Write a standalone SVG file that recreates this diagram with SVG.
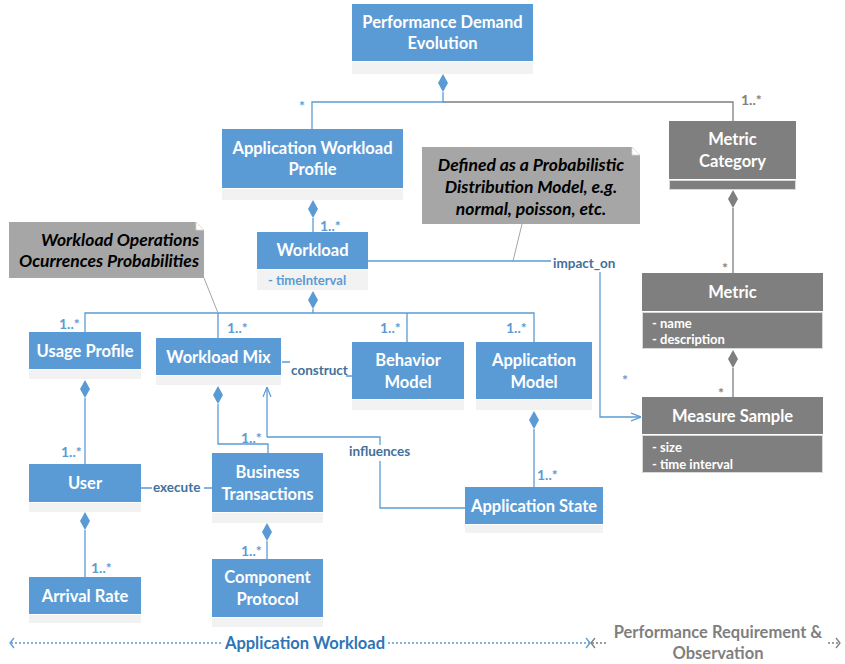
<svg xmlns="http://www.w3.org/2000/svg" width="845" height="664" viewBox="0 0 845 664">
<style>
.box{fill:#5B9BD5}
.comp{fill:#F2F2F2}
.dbox{fill:#7F7F7F}
.dcomp{fill:#7F7F7F;stroke:#D9D9D9;stroke-width:1}
.note{fill:#A6A6A6}
.fold{fill:#FFFFFF;stroke:#D9D9D9;stroke-width:0.8}
.t{font-family:Lato,"Liberation Sans",sans-serif;font-weight:bold;font-size:16.5px;fill:#FFFFFF;text-anchor:middle}
.attr{font-family:Lato,"Liberation Sans",sans-serif;font-weight:bold;font-size:13px;fill:#5B9BD5}
.dattr{font-family:Lato,"Liberation Sans",sans-serif;font-weight:bold;font-size:13px;fill:#FFFFFF}
.nt{font-family:Lato,"Liberation Sans",sans-serif;font-weight:bold;font-style:italic;font-size:17.5px;fill:#000000}
.ln{fill:none;stroke:#5B9BD5;stroke-width:1.3}
.gln{fill:none;stroke:#7F7F7F;stroke-width:1.3}
.nln{fill:none;stroke:#A6A6A6;stroke-width:1}
.mult{font-family:Lato,"Liberation Sans",sans-serif;font-weight:bold;font-size:14px;fill:#5B9BD5}
.gmult{font-family:Lato,"Liberation Sans",sans-serif;font-weight:bold;font-size:14px;fill:#7F7F7F}
.lbl{font-family:Lato,"Liberation Sans",sans-serif;font-weight:bold;font-size:13.5px;fill:#41719C}
.dia{fill:#5B9BD5}
.gdia{fill:#7F7F7F}
.bot{font-family:Lato,"Liberation Sans",sans-serif;font-weight:bold;font-size:16.5px;text-anchor:middle}
</style>
<defs>
<path id="dm" d="M0,0 L5,9 L0,18 L-5,9 Z"/>
<marker id="open" viewBox="0 0 10 10" refX="10" refY="5" markerWidth="10" markerHeight="10" markerUnits="userSpaceOnUse" orient="auto">
<path d="M0,1 L10,5 L0,9" fill="none" stroke="#5B9BD5" stroke-width="1.2"/>
</marker>
</defs>

<g id="connectors">
<use href="#dm" x="443" y="74" class="dia"/>
<path class="ln" d="M443,92 V102 H312 V129"/>
<path class="gln" d="M443,102 H733 V121"/>
<text class="mult" x="299" y="111">*</text>
<text class="gmult" x="741" y="105">1..*</text>
<use href="#dm" x="313" y="200" class="dia"/>
<path class="ln" d="M313,218 V232"/>
<text class="mult" x="320" y="231">1..*</text>
<use href="#dm" x="313" y="291" class="dia"/>
<path class="ln" d="M313,309 V313 M85,332 V313 H534 V342 M218,313 V338 M407,313 V342"/>
<text class="mult" x="59" y="329">1..*</text>
<text class="mult" x="227" y="333">1..*</text>
<text class="mult" x="380" y="333">1..*</text>
<text class="mult" x="506" y="333">1..*</text>
<path class="nln" d="M204,278 L218,313"/>
<path class="nln" d="M522,224 L513,261"/>
<path class="ln" d="M368,261 H551"/>
<text class="lbl" x="553" y="268">impact_on</text>
<path class="ln" d="M600,272 V417 H641" marker-end="url(#open)"/>
<text class="mult" x="622" y="385">*</text>
<use href="#dm" x="733" y="190" class="gdia"/>
<path class="gln" d="M733,208 V273"/>
<text class="gmult" x="722" y="273">*</text>
<use href="#dm" x="733" y="350" class="gdia"/>
<path class="gln" d="M733,368 V397"/>
<text class="gmult" x="718" y="398">*</text>
<use href="#dm" x="85" y="380" class="dia"/>
<path class="ln" d="M85,398 V464"/>
<text class="mult" x="61" y="457">1..*</text>
<use href="#dm" x="218" y="386" class="dia"/>
<path class="ln" d="M218,404 V444 H268 V453"/>
<text class="mult" x="241" y="443">1..*</text>
<path class="ln" d="M267,437 V387" marker-end="url(#open)"/>
<path class="ln" d="M267,437 H380 V445 M380,461 V508 H465"/>
<text class="lbl" x="349" y="456">influences</text>
<path class="ln" d="M141,488 H152 M204,488 H212"/>
<text class="lbl" x="153" y="492">execute</text>
<path class="ln" d="M282,362 H290 M346,376 H352"/>
<text class="lbl" x="291" y="375">construct</text>
<use href="#dm" x="267" y="523" class="dia"/>
<path class="ln" d="M267,541 V559"/>
<text class="mult" x="241" y="556">1..*</text>
<use href="#dm" x="85" y="512" class="dia"/>
<path class="ln" d="M85,530 V577"/>
<text class="mult" x="91" y="573">1..*</text>
<use href="#dm" x="534" y="411" class="dia"/>
<path class="ln" d="M534,429 V487"/>
<text class="mult" x="537" y="480">1..*</text>
</g>

<g id="pde">
<rect class="box" x="352" y="4" width="181" height="57"/>
<rect class="comp" x="352" y="62" width="181" height="12"/>
<text class="t" x="442.5" y="28">Performance Demand</text>
<text class="t" x="442.5" y="49">Evolution</text>
</g>
<g id="awp">
<rect class="box" x="222" y="129" width="181" height="59"/>
<rect class="comp" x="222" y="189" width="181" height="11"/>
<text class="t" x="312.5" y="154">Application Workload</text>
<text class="t" x="312.5" y="175">Profile</text>
</g>
<g id="workload">
<rect class="box" x="257" y="232" width="111" height="37"/>
<rect class="comp" x="257" y="270" width="111" height="20"/>
<text class="t" x="312.5" y="256">Workload</text>
<text class="attr" x="268" y="285">- timeInterval</text>
</g>
<g id="metric-category">
<rect class="dbox" x="669" y="121" width="127" height="58"/>
<rect class="dcomp" x="669.5" y="180.5" width="126" height="9"/>
<text class="t" x="732.5" y="145">Metric</text>
<text class="t" x="732.5" y="167">Category</text>
</g>
<g id="metric">
<rect class="dbox" x="642" y="273" width="181" height="38"/>
<rect class="dcomp" x="642.5" y="312.5" width="180" height="36"/>
<text class="t" x="732.5" y="298">Metric</text>
<text class="dattr" x="652" y="328">- name</text>
<text class="dattr" x="652" y="344">- description</text>
</g>
<g id="measure-sample">
<rect class="dbox" x="642" y="397" width="181" height="37"/>
<rect class="dcomp" x="642.5" y="435.5" width="180" height="37"/>
<text class="t" x="732.5" y="422">Measure Sample</text>
<text class="dattr" x="652" y="452">- size</text>
<text class="dattr" x="652" y="469">- time interval</text>
</g>
<g id="note-distribution">
<path class="note" d="M422,147 H632 L640,155 V224 H422 Z"/>
<path class="fold" d="M632,147 L640,155 H632 Z"/>
<text class="nt" x="531" y="171" text-anchor="middle">Defined as a Probabilistic</text>
<text class="nt" x="531" y="193" text-anchor="middle">Distribution Model, e.g.</text>
<text class="nt" x="531" y="215" text-anchor="middle">normal,  poisson, etc.</text>
</g>
<g id="note-operations">
<path class="note" d="M9,222 H196 L204,230 V278 H9 Z"/>
<path class="fold" d="M196,222 L204,230 H196 Z"/>
<text class="nt" x="199" y="246" text-anchor="end">Workload Operations</text>
<text class="nt" x="199" y="267" text-anchor="end">Ocurrences Probabilities</text>
</g>
<g id="usage-profile">
<rect class="box" x="29" y="332" width="112" height="37"/>
<rect class="comp" x="29" y="370" width="112" height="9"/>
<text class="t" x="85" y="357">Usage Profile</text>
</g>
<g id="workload-mix">
<rect class="box" x="156" y="338" width="125" height="37"/>
<rect class="comp" x="156" y="376" width="125" height="9"/>
<text class="t" x="218.5" y="363">Workload Mix</text>
</g>
<g id="behavior-model">
<rect class="box" x="352" y="342" width="112" height="57"/>
<rect class="comp" x="352" y="400" width="112" height="10"/>
<text class="t" x="408" y="366">Behavior</text>
<text class="t" x="408" y="388">Model</text>
</g>
<g id="application-model">
<rect class="box" x="476" y="342" width="116" height="57"/>
<rect class="comp" x="476" y="400" width="116" height="10"/>
<text class="t" x="534" y="366">Application</text>
<text class="t" x="534" y="388">Model</text>
</g>
<g id="user">
<rect class="box" x="29" y="464" width="112" height="38"/>
<rect class="comp" x="29" y="503" width="112" height="9"/>
<text class="t" x="85" y="489">User</text>
</g>
<g id="business-transactions">
<rect class="box" x="212" y="453" width="111" height="59"/>
<rect class="comp" x="212" y="513" width="111" height="10"/>
<text class="t" x="267.5" y="478">Business</text>
<text class="t" x="267.5" y="500">Transactions</text>
</g>
<g id="component-protocol">
<rect class="box" x="212" y="559" width="111" height="58"/>
<rect class="comp" x="212" y="618" width="111" height="9"/>
<text class="t" x="267.5" y="583">Component</text>
<text class="t" x="267.5" y="605">Protocol</text>
</g>
<g id="arrival-rate">
<rect class="box" x="29" y="577" width="112" height="37"/>
<rect class="comp" x="29" y="615" width="112" height="8"/>
<text class="t" x="85" y="602">Arrival Rate</text>
</g>
<g id="application-state">
<rect class="box" x="465" y="487" width="138" height="37"/>
<rect class="comp" x="465" y="525" width="138" height="8"/>
<text class="t" x="534" y="512">Application State</text>
</g>

<g id="scope-legend">
<path d="M14,638 L10,643 L14,648 M586,638 L590,643 L586,648" fill="none" stroke="#5B9BD5" stroke-width="1.3"/>
<path d="M11,643 H222 M388,643 H589" fill="none" stroke="#5B9BD5" stroke-width="1.3" stroke-dasharray="2,2"/>
<text class="bot" x="305" y="649" fill="#2E75B6">Application Workload</text>
<path d="M595,638 L591,643 L595,648 M836,638 L840,643 L836,648" fill="none" stroke="#7F7F7F" stroke-width="1.3"/>
<path d="M592,643 H606 M828,643 H839" fill="none" stroke="#7F7F7F" stroke-width="1.3" stroke-dasharray="2,2"/>
<text class="bot" x="718" y="638" fill="#7F7F7F">Performance Requirement &amp;</text>
<text class="bot" x="718" y="659" fill="#7F7F7F">Observation</text>
</g>
</svg>
